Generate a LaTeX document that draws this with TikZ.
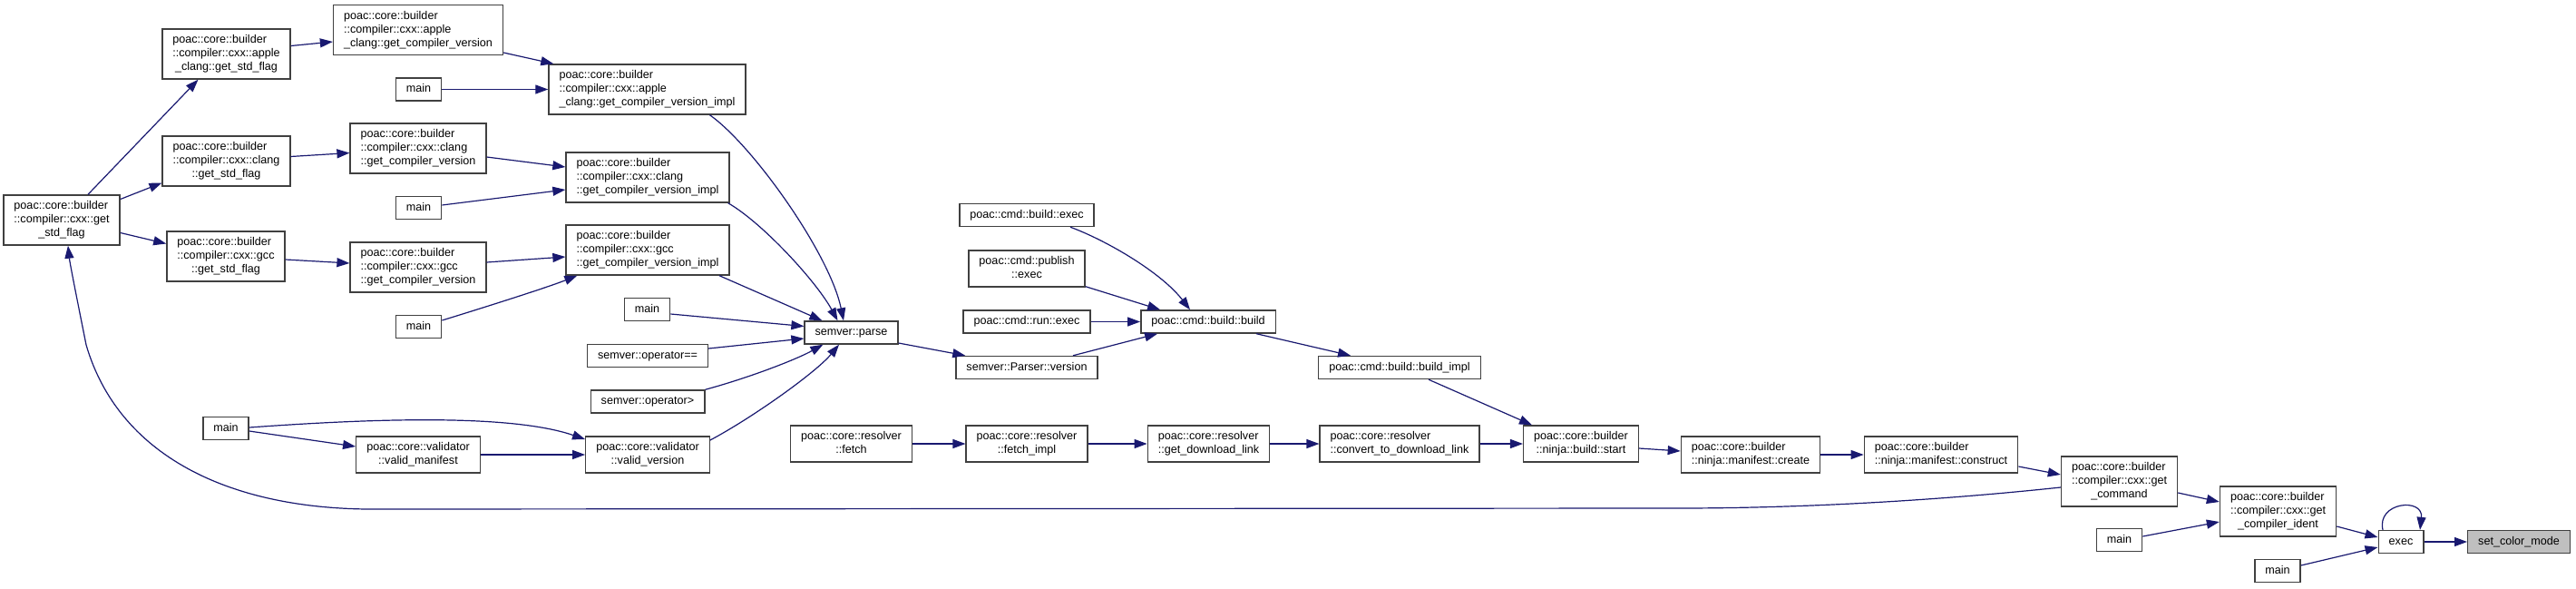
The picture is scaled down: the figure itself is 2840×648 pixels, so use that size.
\documentclass[tikz,border=0pt]{standalone}
\usepackage{fontspec}
\setmainfont{Liberation Sans}
\usetikzlibrary{arrows.meta,calc}
\definecolor{edgeblue}{RGB}{25,25,112}
\definecolor{boxgray}{RGB}{64,64,64}
\definecolor{focusfill}{RGB}{191,191,191}
\newcommand{\Li}[1]{\begin{tabular}{@{}c@{}}#1\end{tabular}}
\newcommand{\Lii}[2]{\begin{tabular}{@{}l@{}}#1\\\multicolumn{1}{@{}c@{}}{#2}\end{tabular}}
\newcommand{\Liii}[3]{\begin{tabular}{@{}l@{}}#1\\#2\\\multicolumn{1}{@{}c@{}}{#3}\end{tabular}}
\tikzset{
  fn/.style={draw=boxgray, line width=1.4pt, fill=white, inner xsep=11.5pt, inner ysep=5pt,
    font=\fontsize{12.6}{15}\selectfont},
  focus/.style={fn, fill=focusfill},
  ed/.style={draw=edgeblue, line width=1.2pt, -{Triangle[length=14pt,width=10pt]}},
}
\begin{document}
\begin{tikzpicture}[x=1pt,y=-1pt]
\useasboundingbox (0,0) rectangle (2840,648);
\fill[white] (0,0) rectangle (2840,648);
% column 1
\node[fn] (gsf) at (68,242.5) {\Liii{poac::core::builder}{::compiler::cxx::get}{\_std\_flag}};
% column 2
\node[fn] (agsf) at (249.5,59.5) {\Liii{poac::core::builder}{::compiler::cxx::apple}{\_clang::get\_std\_flag}};
\node[fn] (cgsf) at (249.5,177.5) {\Liii{poac::core::builder}{::compiler::cxx::clang}{::get\_std\_flag}};
\node[fn] (ggsf) at (249,282.5) {\Liii{poac::core::builder}{::compiler::cxx::gcc}{::get\_std\_flag}};
\node[fn] (mainE) at (249,472) {\Li{main}};
% column 3
\node[fn] (agcv) at (461,33) {\Liii{poac::core::builder}{::compiler::cxx::apple}{\_clang::get\_compiler\_version}};
\node[fn] (mainA) at (461.5,98.5) {\Li{main}};
\node[fn] (cgcv) at (461,163.5) {\Liii{poac::core::builder}{::compiler::cxx::clang}{::get\_compiler\_version}};
\node[fn] (mainB) at (461.5,229) {\Li{main}};
\node[fn] (ggcv) at (461,294.5) {\Liii{poac::core::builder}{::compiler::cxx::gcc}{::get\_compiler\_version}};
\node[fn] (mainC) at (461.5,360) {\Li{main}};
\node[fn] (vman) at (461,501) {\Lii{poac::core::validator}{::valid\_manifest}};
% column 4
\node[fn] (aimpl) at (713.5,98.5) {\Liii{poac::core::builder}{::compiler::cxx::apple}{\_clang::get\_compiler\_version\_impl}};
\node[fn] (cimpl) at (714,195.5) {\Liii{poac::core::builder}{::compiler::cxx::clang}{::get\_compiler\_version\_impl}};
\node[fn] (gimpl) at (714,275.5) {\Liii{poac::core::builder}{::compiler::cxx::gcc}{::get\_compiler\_version\_impl}};
\node[fn] (mainD) at (713.5,341) {\Li{main}};
\node[fn] (opeq) at (714,392) {\Li{semver::operator==}};
\node[fn] (opgt) at (714,442.5) {\Li{semver::operator>}};
\node[fn] (vver) at (714,501) {\Lii{poac::core::validator}{::valid\_version}};
% column 5
\node[fn] (parse) at (938.5,366.5) {\Li{semver::parse}};
\node[fn] (fetch) at (938.5,489) {\Lii{poac::core::resolver}{::fetch}};
% column 6
\node[fn] (bexec) at (1132,237) {\Li{poac::cmd::build::exec}};
\node[fn] (pexec) at (1132,296) {\Lii{poac::cmd::publish}{::exec}};
\node[fn] (rexec) at (1132,354.5) {\Li{poac::cmd::run::exec}};
\node[fn] (pver) at (1132,405) {\Li{semver::Parser::version}};
\node[fn] (fimpl) at (1132,489) {\Lii{poac::core::resolver}{::fetch\_impl}};
% column 7
\node[fn] (bbuild) at (1332,354.5) {\Li{poac::cmd::build::build}};
\node[fn] (gdl) at (1332.5,489) {\Lii{poac::core::resolver}{::get\_download\_link}};
% column 8
\node[fn] (bimpl) at (1543,405) {\Li{poac::cmd::build::build\_impl}};
\node[fn] (cdl) at (1543,489) {\Lii{poac::core::resolver}{::convert\_to\_download\_link}};
% column 9..
\node[fn] (start) at (1743,489) {\Lii{poac::core::builder}{::ninja::build::start}};
\node[fn] (create) at (1930,501) {\Lii{poac::core::builder}{::ninja::manifest::create}};
\node[fn] (construct) at (2140,501) {\Lii{poac::core::builder}{::ninja::manifest::construct}};
\node[fn] (getcmd) at (2336.5,530.5) {\Liii{poac::core::builder}{::compiler::cxx::get}{\_command}};
\node[fn] (mainF) at (2336.5,595) {\Li{main}};
\node[fn] (ident) at (2511.5,563.5) {\Liii{poac::core::builder}{::compiler::cxx::get}{\_compiler\_ident}};
\node[fn] (mainG) at (2511,629) {\Li{main}};
\node[fn] (exec) at (2647,597) {\Li{exec}};
\node[focus] (scm) at (2777,597) {\Li{set\_color\_mode}};

% edges
\draw[ed] ($(gsf.north)+(29,0)$) -- ($(agsf.south)+(-31,0)$);
\draw[ed] ($(gsf.east)+(0,-23)$) -- ($(cgsf.west)+(0,24)$);
\draw[ed] ($(gsf.east)+(0,14)$) -- ($(ggsf.west)+(0,-14)$);
\draw[ed] ($(agsf.east)+(0,-9)$) -- ($(agcv.west)+(0,13)$);
\draw[ed] ($(cgsf.east)+(0,-5)$) -- ($(cgcv.west)+(0,5)$);
\draw[ed] ($(ggsf.east)+(0,3.5)$) -- ($(ggcv.west)+(0,-4.5)$);
\draw[ed] ($(agcv.east)+(0,25)$) -- ($(aimpl.north west)+(6,0)$);
\draw[ed] (mainA.east) -- (aimpl.west);
\draw[ed] ($(cgcv.east)+(0,9.5)$) -- ($(cimpl.west)+(0,-11.5)$);
\draw[ed] ($(mainB.east)+(0,-3)$) -- ($(cimpl.west)+(0,13.5)$);
\draw[ed] ($(ggcv.east)+(0,-5.5)$) -- ($(gimpl.west)+(0,7.5)$);
\draw[ed] ($(mainC.east)+(0,-7)$) .. controls (520,343) and (600,318) .. ($(gimpl.south west)+(13,0)$);
\draw[ed] ($(aimpl.south)+(69,0)$) .. controls (830,160) and (915,280) .. ($(parse.north)+(-8.5,0)$);
\draw[ed] ($(cimpl.south east)+(-2,0)$) .. controls (840,245) and (900,310) .. ($(parse.north)+(-15,0)$);
\draw[ed] ($(gimpl.south)+(79,0)$) -- ($(parse.north west)+(20,0)$);
\draw[ed] ($(mainD.east)+(0,5)$) -- ($(parse.west)+(0,-7)$);
\draw[ed] ($(opeq.east)+(0,-8)$) -- ($(parse.west)+(0,6.5)$);
\draw[ed] (opgt.north east) .. controls (830,415) and (880,395) .. ($(parse.south west)+(21,0)$);
\draw[ed] ($(vver.east)+(0,-16)$) .. controls (830,460) and (900,410) .. ($(parse.south)+(-13.5,0)$);
\draw[ed] ($(mainE.east)+(0,-1)$) .. controls (400,462) and (560,455) .. ($(vver.west)+(0,-17)$);
\draw[ed] ($(mainE.east)+(0,3)$) -- ($(vman.west)+(0,-9)$);
\draw[ed] (vman.east) -- (vver.west);
\draw[ed] ($(parse.east)+(0,11.5)$) -- ($(pver.north west)+(11,0)$);
\draw[ed] ($(pver.north)+(51,0)$) -- ($(bbuild.south west)+(19,0)$);
\draw[ed] ($(bexec.south)+(48,0)$) .. controls (1220,265) and (1280,300) .. ($(bbuild.north)+(-20,0)$);
\draw[ed] ($(pexec.south east)+(0,-1)$) -- ($(bbuild.north west)+(22,0)$);
\draw[ed] (rexec.east) -- (bbuild.west);
\draw[ed] ($(bbuild.south)+(53,0)$) -- ($(bimpl.north west)+(36,0)$);
\draw[ed] ($(bimpl.south)+(32,0)$) -- ($(start.north west)+(10,0)$);
\draw[ed] (fetch.east) -- (fimpl.west);
\draw[ed] (fimpl.east) -- (gdl.west);
\draw[ed] (gdl.east) -- (cdl.west);
\draw[ed] (cdl.east) -- (start.west);
\draw[ed] ($(start.east)+(0,5)$) -- ($(create.west)+(0,-4)$);
\draw[ed] (create.east) -- (construct.west);
\draw[ed] ($(construct.east)+(0,13)$) -- ($(getcmd.west)+(0,-7.5)$);
\draw[ed] ($(getcmd.west)+(0,6.5)$) .. controls (2150,550) and (2000,560) .. (1850,560)
   -- (420,561) .. controls (250,563) and (130,500) .. (95,380)
   .. controls (85,330) and (77,290) .. ($(gsf.south)+(7,0)$);
\draw[ed] ($(getcmd.east)+(0,12.5)$) -- ($(ident.west)+(0,-10.5)$);
\draw[ed] ($(mainF.east)+(0,-4)$) -- ($(ident.west)+(0,11.5)$);
\draw[ed] ($(ident.east)+(0,16.5)$) -- ($(exec.west)+(0,-5)$);
\draw[ed] ($(mainG.east)+(0,-6)$) -- ($(exec.west)+(0,6)$);
\draw[ed] ($(exec.north)+(-20,0)$) .. controls (2620,553) and (2672,548) .. ($(exec.north)+(21,0)$);
\draw[ed] (exec.east) -- (scm.west);
\end{tikzpicture}
\end{document}
